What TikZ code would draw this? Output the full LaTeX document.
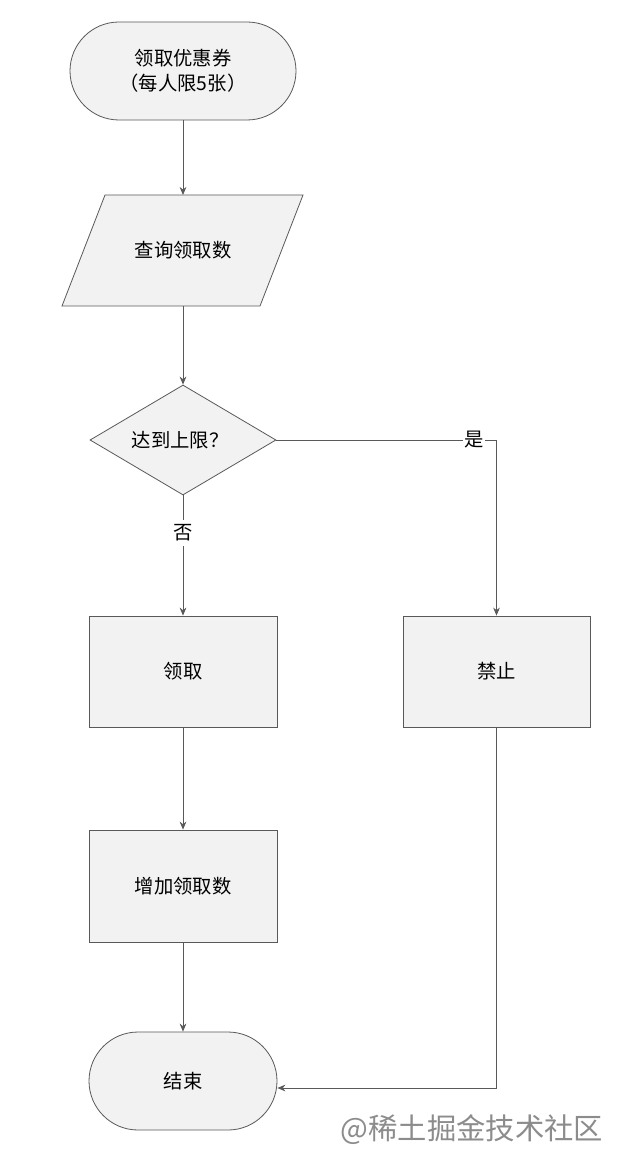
\documentclass[tikz,border=0pt]{standalone}
\usepackage{fontspec}
\setmainfont{Noto Sans CJK SC}
\usetikzlibrary{shapes.geometric,arrows.meta}
\begin{document}
\begin{tikzpicture}[x=0.75pt,y=-0.75pt,
 box/.style={draw=black!65,fill=black!5,line width=0.6pt,font=\fontsize{14.5}{19}\selectfont},
 arr/.style={draw=black!65,line width=0.6pt,-{Stealth[length=6pt,width=5pt]}},
 lab/.style={font=\fontsize{14.5}{19}\selectfont}]
\useasboundingbox (0,0) rectangle (636,1176);
\fill[white] (0,0) rectangle (636,1176);
\node[box,rectangle,rounded corners=49*0.75pt,minimum width=226*0.75pt,minimum height=98*0.75pt,align=center] (s) at (183,71) {领取优惠券\\（每人限5张）};
\draw[box] (105,195) -- (303,195) -- (260,306) -- (62,306) -- cycle;
\node[lab] (q) at (183,250) {查询领取数};
\coordinate (qt) at (183,195); \coordinate (qb) at (183,306);
\node[box,diamond,aspect=1.69,minimum width=186*0.75pt,minimum height=110*0.75pt,inner sep=0pt] (d) at (183,440) {};
\node[lab] at (180,440) {达到上限？};
\node[box,minimum width=188*0.75pt,minimum height=111*0.75pt] (g) at (183,671.5) {领取};
\node[box,minimum width=187*0.75pt,minimum height=111*0.75pt] (f) at (496.5,671.5) {禁止};
\node[box,minimum width=188*0.75pt,minimum height=112*0.75pt] (a) at (183,886) {增加领取数};
\node[box,rectangle,rounded corners=49*0.75pt,minimum width=188*0.75pt,minimum height=98*0.75pt] (e) at (183,1081) {结束};
\node[lab] (no) at (183,533) {否};
\draw[arr] (s) -- (qt);
\draw[arr] (qb) -- (d.north);
\draw[draw=black!65,line width=0.6pt] (d.south) -- (no.north);
\draw[arr] (no.south) -- (g.north);
\draw[arr] (d.east) -| (f.north);
\node[lab,fill=white,inner sep=1pt] (yes) at (474,440) {是};
\draw[arr] (g) -- (a);
\draw[arr] (a) -- (e);
\coordinate (c) at (496.5,1088);
\draw[arr] (f.south) -- (c) -- (e.east |- c);
\node[font=\fontsize{22}{26}\selectfont,text=black!45,anchor=east] at (608,1130) {@稀土掘金技术社区};
\end{tikzpicture}
\end{document}
